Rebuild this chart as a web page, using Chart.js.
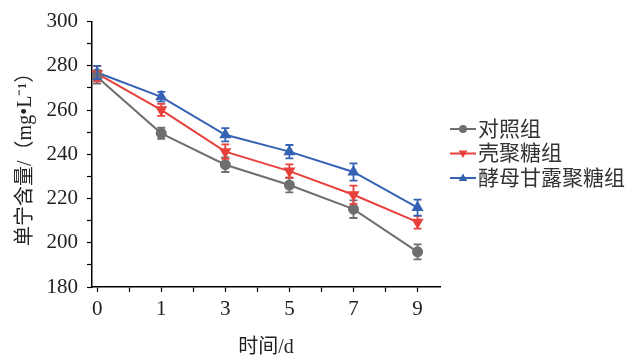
<!DOCTYPE html>
<html>
<head>
<meta charset="utf-8">
<script src="https://cdn.jsdelivr.net/npm/chart.js@4.4.1/dist/chart.umd.min.js"></script>
<style>
  html, body { margin: 0; padding: 0; background: #fff; }
  #wrap { width: 634px; height: 363px; }
</style>
</head>
<body>
<div id="wrap"><canvas id="chart"></canvas></div>
<script>
// days of storage, drawn at equal spacing
const days = ['0', '1', '3', '5', '7', '9'];
const seriesNames = ['对照组', '壳聚糖组', '酵母甘露聚糖组'];

const controlVals  = [275.0, 249.5, 235.3, 226.1, 215.2, 195.9];
const controlErr   = [3.0, 2.5, 3.3, 3.3, 4.0, 3.4];
const chitosanVals = [276.5, 260.1, 241.2, 232.4, 221.7, 209.3];
const chitosanErr  = [3.5, 2.7, 3.3, 3.0, 4.1, 2.9];
const mannanVals   = [277.0, 266.0, 248.8, 241.2, 232.0, 215.9];
const mannanErr    = [3.0, 2.2, 3.0, 3.0, 3.9, 3.6];

const yTicks = [180, 200, 220, 240, 260, 280, 300];

const FONT = '"Liberation Serif", "Noto Sans CJK SC", serif';
const colors = ['#6f6f6f', '#e8403c', '#3562b3'];
const styles = ['circle', 'down', 'up'];

const toPts = vals => vals.map((v, i) => ({ x: i, y: v }));

function marker(ctx, kind, x, y, r) {
    ctx.beginPath();
    if (kind === 'circle') {
        ctx.arc(x, y, r, 0, Math.PI * 2);
    } else if (kind === 'up') {
        ctx.moveTo(x, y - r * 1.15);
        ctx.lineTo(x + r * 1.1, y + r * 0.75);
        ctx.lineTo(x - r * 1.1, y + r * 0.75);
        ctx.closePath();
    } else {
        ctx.moveTo(x, y + r * 1.15);
        ctx.lineTo(x + r * 1.1, y - r * 0.75);
        ctx.lineTo(x - r * 1.1, y - r * 0.75);
        ctx.closePath();
    }
    ctx.fill();
}

const errorBars = {
    id: 'errorBars',
    afterDatasetsDraw(chart) {
        const ctx = chart.ctx;
        const ys = chart.scales.y;
        chart.data.datasets.forEach((ds, di) => {
            const meta = chart.getDatasetMeta(di);
            ctx.save();
            ctx.strokeStyle = ds.borderColor;
            ctx.lineWidth = 1.8;
            meta.data.forEach((pt, j) => {
                const v = ds.data[j].y, e = ds.errors[j];
                const y1 = ys.getPixelForValue(v + e), y2 = ys.getPixelForValue(v - e);
                ctx.beginPath();
                ctx.moveTo(pt.x, y1); ctx.lineTo(pt.x, y2);
                ctx.moveTo(pt.x - 4, y1); ctx.lineTo(pt.x + 4, y1);
                ctx.moveTo(pt.x - 4, y2); ctx.lineTo(pt.x + 4, y2);
                ctx.stroke();
            });
            ctx.restore();
        });
    }
};

const sideLegend = {
    id: 'sideLegend',
    afterDraw(chart) {
        const ctx = chart.ctx;
        ctx.save();
        ctx.font = '21px ' + FONT;
        ctx.textBaseline = 'middle';
        chart.data.datasets.forEach((ds, i) => {
            const y = 129 + i * 24.5;
            ctx.strokeStyle = ds.borderColor;
            ctx.fillStyle = ds.borderColor;
            ctx.lineWidth = 2;
            ctx.beginPath();
            ctx.moveTo(450, y); ctx.lineTo(476, y);
            ctx.stroke();
            marker(ctx, styles[i], 463, y, 4);
            ctx.fillStyle = '#333';
            ctx.fillText(ds.label, 478, y + 1);
        });
        ctx.restore();
    }
};

const datasets = [controlVals, chitosanVals, mannanVals].map((vals, i) => ({
    label: seriesNames[i],
    data: toPts(vals),
    errors: [controlErr, chitosanErr, mannanErr][i],
    borderColor: colors[i],
    backgroundColor: colors[i],
    borderWidth: 2,
    pointStyle: styles[i] === 'circle' ? 'circle' : 'triangle',
    rotation: styles[i] === 'down' ? 180 : 0,
    pointRadius: styles[i] === 'circle' ? 4.5 : 5,
    tension: 0,
}));

new Chart(document.getElementById('chart'), {
    type: 'line',
    data: { datasets },
    plugins: [errorBars, sideLegend],
    options: {
        responsive: true,
        maintainAspectRatio: false,
        animation: false,
        layout: { padding: { top: 13, right: 194, left: 0, bottom: 0 } },
        plugins: { legend: { display: false }, tooltip: { enabled: false } },
        scales: {
            x: {
                type: 'linear',
                min: -0.08,
                max: 5.35,
                afterBuildTicks(s) {
                    s.ticks = [];
                    for (let v = 0; v <= 5; v += 0.5) s.ticks.push({ value: v });
                },
                afterFit(s) { s.height = 76; },
                grid: { drawOnChartArea: false, tickLength: 5, tickColor: '#000', tickWidth: 1.2 },
                border: { color: '#000', width: 1.5 },
                ticks: {
                    padding: 5,
                    color: '#222',
                    font: { family: FONT, size: 21 },
                    maxRotation: 0,
                    autoSkip: false,
                    callback: v => Number.isInteger(v) ? days[v] : '',
                },
                title: {
                    display: true,
                    text: '时间/d',
                    color: '#222',
                    font: { family: FONT, size: 20 },
                    padding: { top: 0, bottom: 3 },
                },
            },
            y: {
                min: yTicks[0],
                max: yTicks[yTicks.length - 1],
                afterFit(s) { s.width = 92; },
                grid: { drawOnChartArea: false, tickLength: 5, tickColor: '#000', tickWidth: 1.2 },
                border: { color: '#000', width: 1.5 },
                ticks: {
                    stepSize: 10,
                    padding: 9,
                    color: '#222',
                    font: { family: FONT, size: 21 },
                    autoSkip: false,
                    callback: v => yTicks.includes(v) ? String(v) : '',
                },
                title: {
                    display: true,
                    text: '单宁含量/（mg•L⁻¹）',
                    color: '#222',
                    font: { family: FONT, size: 20 },
                    padding: { bottom: 0, top: 14 },
                },
            },
        },
    },
});
</script>
</body>
</html>
